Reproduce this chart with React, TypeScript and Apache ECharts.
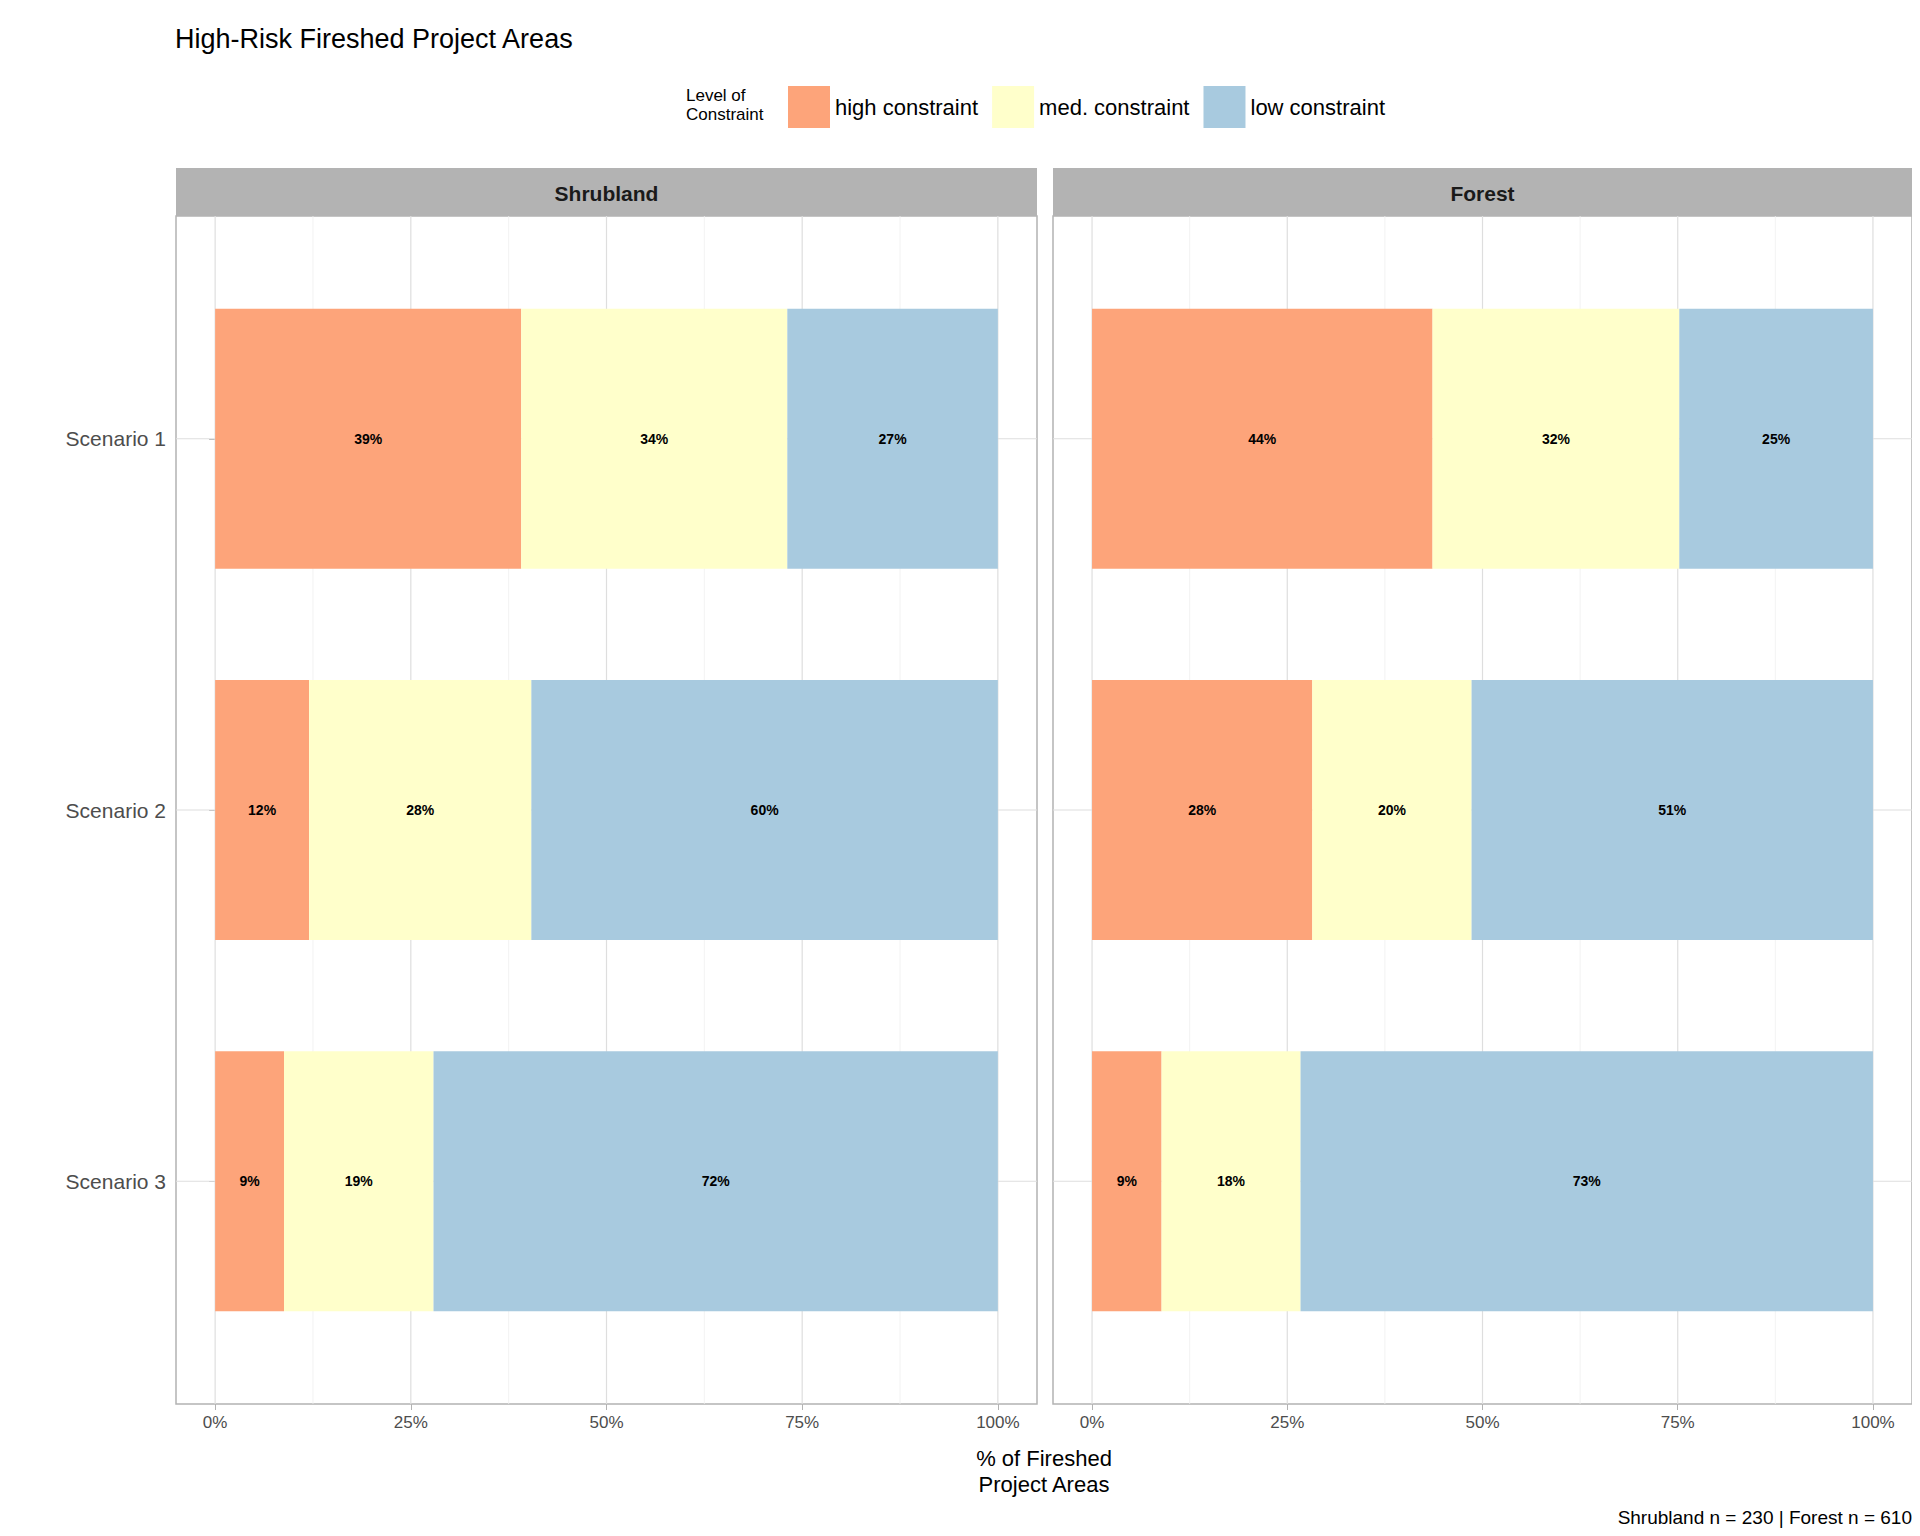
import React, { useEffect, useRef } from 'react'
import * as echarts from 'echarts'

const PANELS = ['Shrubland', 'Forest']
const SCENARIOS = ['Scenario 1', 'Scenario 2', 'Scenario 3']
const LEVELS = ['high constraint', 'med. constraint', 'low constraint']
const COLORS = ['#fda47a', '#ffffcb', '#a8cadf']

// percent per scenario, per level
const SHRUB_HIGH = [39.1, 12.0, 8.8]
const SHRUB_MED = [34.0, 28.4, 19.1]
const SHRUB_LOW = [26.9, 59.6, 72.1]
const FOREST_HIGH = [43.6, 28.2, 8.9]
const FOREST_MED = [31.6, 20.4, 17.8]
const FOREST_LOW = [24.8, 51.4, 73.3]

const X_TICKS = [0, 25, 50, 75, 100]
const X_GRID = [0, 12.5, 25, 37.5, 50, 62.5, 75, 87.5, 100]

const GRIDS = [
  { left: 168, width: 861 },
  { left: 1045, width: 859 },
]
const TOP = 208
const HEIGHT = 1188

const App = () => {
  const ref = useRef<HTMLDivElement>(null)

  useEffect(() => {
    if (!ref.current) return
    const chart = echarts.init(ref.current, undefined, { renderer: 'svg' })
    const panelData = [
      [SHRUB_HIGH, SHRUB_MED, SHRUB_LOW],
      [FOREST_HIGH, FOREST_MED, FOREST_LOW],
    ]

    const series: any[] = []
    panelData.forEach((levels, p) => {
      // gridlines
      series.push({
        type: 'custom',
        xAxisIndex: p,
        yAxisIndex: p,
        silent: true,
        z: 1,
        data: [...X_GRID.map((v) => [0, v]), ...[1, 2, 3].map((v) => [1, v])],
        renderItem: (params: any, api: any) => {
          const kind = api.value(0)
          const v = api.value(1)
          const a = kind === 0 ? api.coord([v, 0.4]) : api.coord([-5, v])
          const b = kind === 0 ? api.coord([v, 3.6]) : api.coord([105, v])
          const major = kind === 1 || v % 25 === 0
          return {
            type: 'line',
            shape: { x1: a[0], y1: a[1], x2: b[0], y2: b[1] },
            style: { stroke: major ? '#dedede' : '#efefef', lineWidth: major ? 1.2 : 0.8 },
          }
        },
      })
      levels.forEach((vals, l) => {
        const rows = vals.map((v, i) => {
          let start = 0
          for (let k = 0; k < l; k++) start += levels[k][i]
          return [start, start + v, i + 1, v]
        })
        series.push({
          type: 'custom',
          name: LEVELS[l],
          xAxisIndex: p,
          yAxisIndex: p,
          z: 2,
          itemStyle: { color: COLORS[l] },
          data: rows,
          renderItem: (params: any, api: any) => {
            const s = api.coord([api.value(0), api.value(2)])
            const e = api.coord([api.value(1), api.value(2)])
            const h = api.size([0, 0.7])[1]
            return {
              type: 'group',
              children: [
                {
                  type: 'rect',
                  shape: { x: s[0], y: s[1] - h / 2, width: e[0] - s[0], height: h },
                  style: { fill: COLORS[l] },
                },
                {
                  type: 'text',
                  style: {
                    x: (s[0] + e[0]) / 2,
                    y: s[1],
                    text: Math.round(api.value(3)) + '%',
                    align: 'center',
                    verticalAlign: 'middle',
                    fontSize: 14,
                    fontWeight: 'bold',
                    fontFamily: 'Liberation Sans',
                    fill: '#000',
                  },
                },
              ],
            }
          },
        })
      })
    })

    const strips: any[] = GRIDS.map((g, i) => ({
      type: 'group',
      children: [
        {
          type: 'rect',
          shape: { x: g.left, y: 160, width: g.width, height: 48 },
          style: { fill: '#b3b3b3' },
        },
        {
          type: 'text',
          style: {
            x: g.left + g.width / 2,
            y: 185,
            text: PANELS[i],
            align: 'center',
            verticalAlign: 'middle',
            fontSize: 21,
            fontWeight: 'bold',
            fontFamily: 'Liberation Sans',
            fill: '#1a1a1a',
          },
        },
      ],
    }))

    chart.setOption({
      animation: false,
      textStyle: { fontFamily: 'Liberation Sans' },
      title: {
        text: 'High-Risk Fireshed Project Areas',
        left: 162,
        top: 12,
        textStyle: { fontSize: 27, fontWeight: 'normal', color: '#000' },
      },
      legend: {
        left: 775,
        top: 73,
        itemWidth: 42,
        itemHeight: 42,
        itemGap: 14,
        icon: 'rect',
        data: LEVELS,
        textStyle: { fontSize: 22, color: '#000' },
      },
      grid: GRIDS.map((g) => ({
        left: g.left,
        width: g.width,
        top: TOP,
        height: HEIGHT,
        show: true,
        backgroundColor: '#fff',
        borderColor: '#b3b3b3',
        borderWidth: 1.5,
      })),
      xAxis: GRIDS.map((g, i) => ({
        type: 'value',
        gridIndex: i,
        min: -5,
        max: 105,
        splitLine: { show: false },
        axisLine: { show: false },
        axisTick: { show: true, customValues: X_TICKS, length: 6, lineStyle: { color: '#b3b3b3' } },
        axisLabel: {
          customValues: X_TICKS,
          formatter: (v: number) => v + '%',
          fontSize: 17,
          color: '#4d4d4d',
          margin: 10,
        },
      })),
      yAxis: GRIDS.map((g, i) => ({
        type: 'value',
        gridIndex: i,
        min: 0.4,
        max: 3.6,
        inverse: true,
        splitLine: { show: false },
        axisLine: { show: false },
        axisTick: { show: i === 0, customValues: [1, 2, 3], length: 6, lineStyle: { color: '#b3b3b3' } },
        axisLabel: {
          show: i === 0,
          customValues: [1, 2, 3],
          formatter: (v: number) => SCENARIOS[Math.round(v) - 1] ?? '',
          fontSize: 21,
          color: '#4d4d4d',
          margin: 10,
        },
      })),
      graphic: [
        ...strips,
        {
          type: 'text',
          left: 678,
          top: 78,
          style: {
            text: 'Level of\nConstraint',
            fontSize: 17,
            lineHeight: 19,
            fontFamily: 'Liberation Sans',
            fill: '#000',
          },
        },
        {
          type: 'text',
          x: 1036,
          y: 1437,
          style: {
            text: '% of Fireshed\nProject Areas',
            align: 'center',
            fontSize: 22,
            lineHeight: 26,
            fontFamily: 'Liberation Sans',
            fill: '#000',
          },
        },
        {
          type: 'text',
          x: 1904,
          y: 1500,
          style: {
            text: 'Shrubland n = 230 | Forest n = 610',
            align: 'right',
            fontSize: 19,
            fontFamily: 'Liberation Sans',
            fill: '#000',
          },
        },
      ],
      series,
    })
    return () => chart.dispose()
  }, [])

  return <div ref={ref} style={{ width: 1904, height: 1520 }} />
}

export default App
